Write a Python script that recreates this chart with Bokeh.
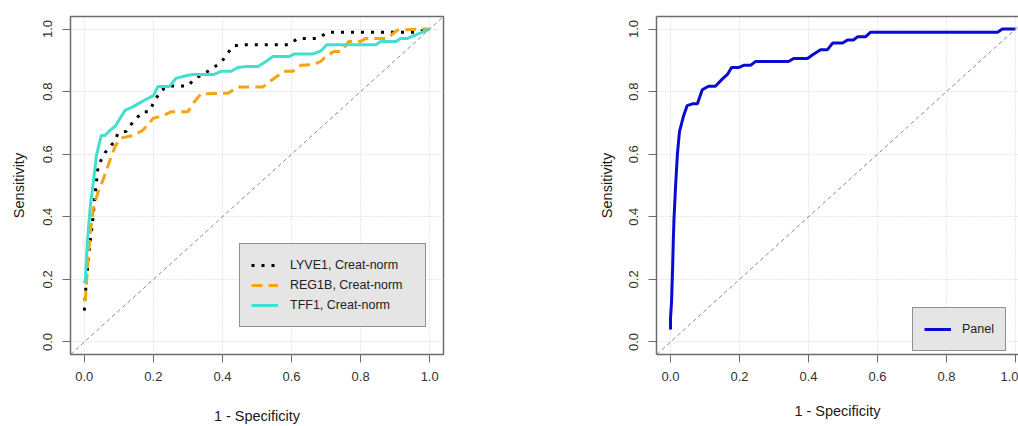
from bokeh.plotting import figure
from bokeh.layouts import row
from bokeh.models import (Slope, Legend, LegendItem, LinearAxis, FixedTicker,
                          Range1d, PrintfTickFormatter)
from bokeh.embed import file_html
from bokeh.resources import INLINE

# ---------------- data ----------------
tick_values = [0.0, 0.2, 0.4, 0.6, 0.8, 1.0]
x_title = "1 - Specificity"
y_title = "Sensitivity"

lyve1_label = "LYVE1, Creat-norm"
lyve1_fpr = [0.0, 0.006, 0.015, 0.023, 0.032, 0.04, 0.06, 0.084, 0.098, 0.121,
             0.142, 0.17, 0.188, 0.203, 0.222, 0.243, 0.3, 0.318, 0.358, 0.396,
             0.43, 0.454, 0.593, 0.618, 0.676, 0.705, 0.96, 1.0]
lyve1_tpr = [0.10, 0.20, 0.30, 0.375, 0.48, 0.563, 0.605, 0.636, 0.667, 0.673,
             0.705, 0.736, 0.736, 0.77, 0.803, 0.818, 0.818, 0.84, 0.865, 0.893,
             0.945, 0.95, 0.95, 0.97, 0.97, 0.99, 0.99, 1.0]

reg1b_label = "REG1B, Creat-norm"
reg1b_fpr = [0.0, 0.003, 0.009, 0.017, 0.026, 0.04, 0.055, 0.075, 0.09, 0.107,
             0.142, 0.17, 0.2, 0.232, 0.252, 0.3, 0.318, 0.338, 0.416, 0.445,
             0.517, 0.54, 0.578, 0.604, 0.627, 0.665, 0.685, 0.705, 0.723, 0.743,
             0.766, 0.8, 0.815, 0.878, 0.907, 0.983, 1.0]
reg1b_tpr = [0.13, 0.135, 0.23, 0.345, 0.426, 0.48, 0.52, 0.583, 0.627, 0.652,
             0.66, 0.677, 0.715, 0.725, 0.736, 0.736, 0.767, 0.793, 0.795, 0.815,
             0.815, 0.835, 0.865, 0.865, 0.884, 0.887, 0.897, 0.918, 0.928, 0.928,
             0.96, 0.96, 0.97, 0.97, 0.997, 1.0, 1.0]

tff1_label = "TFF1, Creat-norm"
tff1_fpr = [0.0, 0.003, 0.009, 0.017, 0.026, 0.035, 0.049, 0.06, 0.075, 0.09,
            0.118, 0.142, 0.17, 0.2, 0.213, 0.246, 0.266, 0.285, 0.314, 0.376,
            0.396, 0.425, 0.445, 0.468, 0.503, 0.526, 0.546, 0.593, 0.607, 0.661,
            0.685, 0.702, 0.844, 0.858, 0.902, 0.916, 0.936, 1.0]
tff1_tpr = [0.188, 0.20, 0.32, 0.43, 0.51, 0.595, 0.66, 0.66, 0.677, 0.69,
            0.74, 0.752, 0.77, 0.787, 0.816, 0.816, 0.843, 0.848, 0.855, 0.855,
            0.865, 0.865, 0.877, 0.88, 0.88, 0.896, 0.912, 0.912, 0.92, 0.92,
            0.93, 0.95, 0.95, 0.96, 0.96, 0.97, 0.97, 1.0]

panel_label = "Panel"
panel_fpr = [0.0, 0.0, 0.003, 0.006, 0.008, 0.01, 0.0145, 0.02, 0.026, 0.038,
             0.048, 0.064, 0.078, 0.092, 0.11, 0.13, 0.15, 0.165, 0.177, 0.197,
             0.212, 0.232, 0.246, 0.342, 0.357, 0.397, 0.412, 0.435, 0.455, 0.47,
             0.499, 0.513, 0.53, 0.542, 0.565, 0.58, 0.948, 0.962, 1.0]
panel_tpr = [0.04, 0.075, 0.127, 0.232, 0.32, 0.39, 0.494, 0.60, 0.672, 0.723,
             0.755, 0.761, 0.761, 0.806, 0.817, 0.817, 0.84, 0.855, 0.877, 0.877,
             0.884, 0.884, 0.896, 0.896, 0.906, 0.906, 0.918, 0.934, 0.934, 0.955,
             0.955, 0.965, 0.965, 0.975, 0.975, 0.99, 0.99, 1.0, 1.0]

# ---------------- style ----------------
FONT = "Liberation Sans"
BOX = "#6b6b6b"
GRID = "#d0d0d0"


def style_axes(p, x_standoff, y_standoff):
    for ax in (p.xaxis[0], p.yaxis[0]):
        ax.ticker = FixedTicker(ticks=tick_values)
        ax.formatter = PrintfTickFormatter(format="%.1f")
        ax.minor_tick_line_color = None
        ax.major_tick_in = 0
        ax.major_tick_out = 8
        ax.major_tick_line_color = BOX
        ax.major_label_text_font = FONT
        ax.major_label_text_font_size = "13px"
        ax.major_label_text_color = "#333333"
        ax.axis_label_text_font = FONT
        ax.axis_label_text_font_size = "14.5px"
        ax.axis_label_text_font_style = "normal"
        ax.axis_label_text_color = "#1a1a1a"
    p.xaxis[0].major_label_standoff = 9
    p.xaxis[0].axis_label_standoff = x_standoff
    p.yaxis[0].major_label_orientation = "vertical"
    p.yaxis[0].major_label_standoff = 10
    p.yaxis[0].axis_label_standoff = y_standoff
    p.xgrid.ticker = FixedTicker(ticks=tick_values)
    p.ygrid.ticker = FixedTicker(ticks=tick_values)
    for g in (p.xgrid, p.ygrid):
        g.grid_line_color = GRID
        g.grid_line_dash = "1 2"
        g.grid_line_width = 1
    p.add_layout(Slope(gradient=1, y_intercept=0, line_color="#8a8a8a",
                       line_dash="4 3", line_width=1))


def style_legend(leg, loc, label_width, standoff):
    leg.location = loc
    leg.orientation = "vertical"
    leg.background_fill_color = "#e5e5e5"
    leg.background_fill_alpha = 1
    leg.border_line_color = "#3c3c3c"
    leg.border_line_width = 1
    leg.label_text_font = FONT
    leg.label_text_font_size = "12.5px"
    leg.label_text_color = "#222222"
    leg.glyph_width = 27
    leg.glyph_height = 20
    leg.label_height = 20
    leg.label_width = label_width
    leg.label_standoff = standoff
    leg.padding = 11
    leg.spacing = 0
    leg.margin = 0


# ---------------- left panel ----------------
p1 = figure(width=540, height=426, output_backend="svg", toolbar_location=None,
            x_range=Range1d(-0.04, 1.04), y_range=Range1d(-0.04, 1.04),
            min_border_left=70, min_border_right=97, min_border_top=12,
            min_border_bottom=70, x_axis_label=x_title, y_axis_label=y_title)
p1.outline_line_color = BOX
p1.outline_line_width = 1.5
p1.xaxis.axis_line_color = None
p1.yaxis.axis_line_color = None
style_axes(p1, 24, 14)

r_l = p1.line(lyve1_fpr, lyve1_tpr, line_color="#000000", line_width=3,
              line_dash="3 7")
r_r = p1.line(reg1b_fpr, reg1b_tpr, line_color="#F5A514", line_width=3,
              line_dash="11 6")
r_t = p1.line(tff1_fpr, tff1_tpr, line_color="#40E0D0", line_width=3)

leg1 = Legend(items=[LegendItem(label=lyve1_label, renderers=[r_l]),
                     LegendItem(label=reg1b_label, renderers=[r_r]),
                     LegendItem(label=tff1_label, renderers=[r_t])])
style_legend(leg1, (169, 27), 124, 12)
p1.add_layout(leg1)

# ---------------- right panel ----------------
p2 = figure(width=478, height=426, output_backend="svg", toolbar_location=None,
            x_range=Range1d(-0.0406, 1.0087), y_range=Range1d(-0.04, 1.04),
            min_border_left=116, min_border_right=0, min_border_top=16,
            min_border_bottom=67, x_axis_label=x_title, y_axis_label=y_title)
p2.outline_line_color = None
style_axes(p2, 19, 12)
for ax in (p2.xaxis[0], p2.yaxis[0]):
    ax.axis_line_color = BOX
    ax.axis_line_width = 1.5
top_ax = LinearAxis(ticker=FixedTicker(ticks=[]), major_tick_out=0,
                    major_tick_in=0, major_label_text_font_size="0px",
                    major_label_standoff=0, axis_line_color=BOX,
                    axis_line_width=1.5, minor_tick_line_color=None)
p2.add_layout(top_ax, "above")

r_p = p2.line(panel_fpr, panel_tpr, line_color="#0a0ad2", line_width=3)
leg2 = Legend(items=[LegendItem(label=panel_label, renderers=[r_p])])
style_legend(leg2, (256, 3), 30, 11)
p2.add_layout(leg2)

for p in (p1, p2):
    p.background_fill_color = "white"
    p.border_fill_color = "white"

layout = row(p1, p2)
open("out.html", "w").write(file_html(layout, INLINE))
